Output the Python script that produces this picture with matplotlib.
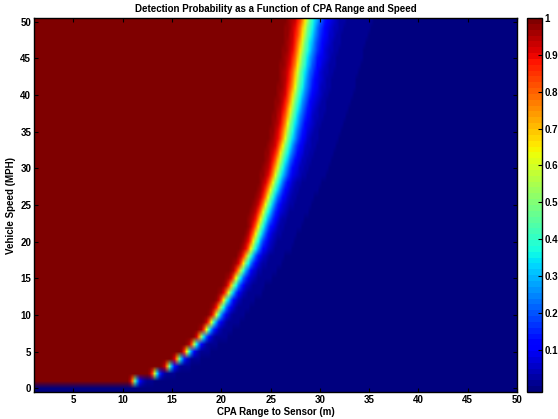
import numpy as np
import matplotlib
matplotlib.use('Agg')
from matplotlib import pyplot as plt

plt.rcParams['font.family'] = ['Liberation Sans', 'DejaVu Sans']
plt.rcParams['font.weight'] = 'bold'

#-----------------------------------------------------------------------------#
# data

speeds = np.arange(0, 51)            # MPH, one image row per speed
ranges = np.arange(1, 50.01, 0.25)   # CPA range grid (m)

# range (m) where detection probability is 0.5, for speeds 1..50
r50 = [11.2, 13.3, 14.7, 15.7, 16.6, 17.3, 18.0, 18.6, 19.1, 19.6,
       20.0, 20.4, 20.85, 21.25, 21.65, 22.05, 22.45, 22.8, 23.2, 23.45,
       23.7, 23.95, 24.2, 24.45, 24.7, 24.95, 25.2, 25.45, 25.7, 25.9,
       26.1, 26.3, 26.5, 26.7, 26.85, 27.0, 27.15, 27.3, 27.45, 27.6,
       27.75, 27.85, 27.95, 28.1, 28.2, 28.35, 28.45, 28.6, 28.7, 28.85]

# width (m) of the fall-off beyond r50 at each speed 1..50
fall = [0.27, 0.28, 0.30, 0.31, 0.33, 0.34, 0.36, 0.37, 0.39, 0.40,
        0.42, 0.43, 0.45, 0.46, 0.48, 0.49, 0.51, 0.52, 0.54, 0.55,
        0.57, 0.58, 0.60, 0.61, 0.63, 0.64, 0.66, 0.67, 0.69, 0.70,
        0.72, 0.73, 0.74, 0.75, 0.76, 0.77, 0.78, 0.79, 0.80, 0.81,
        0.82, 0.83, 0.84, 0.85, 0.86, 0.87, 0.88, 0.89, 0.90, 0.91]
near = 0.6   # inside r50 the roll-off is sharper by this factor

cbar_ticks = [0.1, 0.2, 0.3, 0.4, 0.5, 0.6, 0.7, 0.8, 0.9, 1]

# speed 0 never detected
pd = np.zeros((len(speeds), len(ranges)))
for i in range(1, len(speeds)):
    d = ranges - r50[i-1]
    w = np.where(d < 0, near * fall[i-1], fall[i-1])
    pd[i] = 1.0 / (1.0 + np.exp(d / w))

#-----------------------------------------------------------------------------#

fig = plt.figure(figsize=(5.58, 4.19), dpi=100)
ax = fig.add_axes([34/558, 27/419, 483/558, 374/419])
cax = fig.add_axes([527/558, 27/419, 15/558, 374/419])

dx = (ranges[1] - ranges[0]) / 2
im = ax.imshow(pd, origin='lower', aspect='auto', cmap=plt.get_cmap('jet', 64),
               interpolation='bilinear', vmin=-0.015, vmax=1,
               extent=[ranges[0]-dx, ranges[-1]+dx, -0.5, 50.5])
ax.set_xlim(1, 50)
ax.set_ylim(-0.5, 50.5)
ax.set_xticks(range(5, 51, 5))
ax.set_yticks(range(0, 51, 5))
ax.tick_params(direction='in', length=3, width=0.8, labelsize=7,
               top=True, right=True, pad=2)
for s in ax.spines.values():
    s.set_linewidth(1)

ax.set_title('Detection Probability as a Function of CPA Range and Speed',
             fontsize=7, fontweight='bold', pad=4)
ax.set_xlabel('CPA Range to Sensor (m)', fontsize=7, fontweight='bold', labelpad=1.5)
ax.set_ylabel('Vehicle Speed (MPH)', fontsize=7, fontweight='bold', labelpad=3)

cb = fig.colorbar(im, cax=cax, ticks=cbar_ticks)
cb.ax.set_yticklabels([str(t) for t in cbar_ticks])
cb.ax.tick_params(direction='in', length=3, width=0.8, labelsize=7, pad=2)
cb.outline.set_linewidth(1)

plt.savefig('out.png', dpi=100)
